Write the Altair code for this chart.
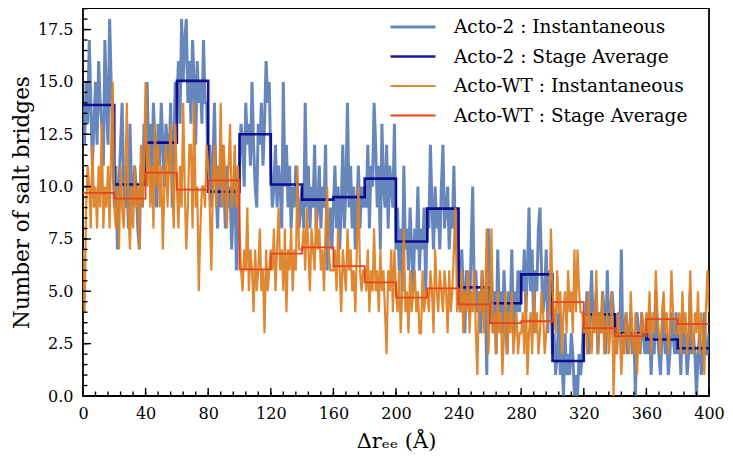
import altair as alt
import pandas as pd

# ---------------- data ----------------
x_inst = list(range(0, 401))

acto2_inst = [
    14, 12, 15, 13, 17, 14, 11, 13, 15, 12, 16, 14, 13, 11, 17, 14, 12, 18, 15, 12,
    9, 11, 7, 10, 12, 14, 10, 9, 11, 8, 13, 10, 9, 11, 10, 8, 7, 11, 9, 13,
    12, 15, 11, 13, 10, 14, 12, 9, 13, 11, 14, 12, 10, 13, 12, 11, 14, 9, 12, 15,
    14, 16, 13, 18, 15, 17, 18, 14, 16, 13, 17, 15, 12, 16, 14, 15, 13, 17, 14, 14,
    10, 12, 9, 11, 14, 10, 8, 11, 9, 12, 10, 8, 11, 9, 10, 7, 9, 11, 6, 8,
    11, 13, 12, 10, 14, 12, 13, 11, 15, 12, 10, 9, 13, 12, 14, 11, 13, 16, 14, 15,
    11, 9, 10, 12, 9, 11, 10, 8, 15, 10, 12, 9, 11, 8, 10, 9, 11, 10, 8, 9,
    10, 8, 14, 9, 11, 8, 10, 9, 12, 8, 9, 11, 8, 10, 9, 12, 6, 8, 9, 7,
    9, 11, 8, 10, 7, 9, 12, 8, 10, 14, 9, 11, 8, 10, 7, 9, 11, 8, 10, 9,
    10, 9, 12, 8, 11, 10, 14, 12, 9, 11, 7, 13, 10, 9, 12, 8, 11, 10, 9, 13,
    7, 9, 6, 8, 5, 11, 7, 8, 6, 9, 7, 5, 8, 7, 10, 6, 8, 7, 9, 5,
    9, 8, 12, 9, 7, 10, 8, 9, 7, 10, 12, 8, 9, 10, 7, 9, 8, 11, 7, 9,
    6, 4, 7, 5, 3, 6, 5, 4, 7, 10, 5, 6, 4, 5, 3, 6, 4, 5, 1, 8,
    4, 6, 3, 5, 2, 7, 4, 5, 3, 6, 4, 2, 5, 4, 7, 3, 5, 4, 6, 4,
    6, 5, 7, 4, 6, 9, 5, 7, 3, 6, 5, 8, 9, 6, 4, 5, 7, 3, 6, 5,
    2, 3, 1, 2, 4, 1, 2, 0, 3, 1, 2, 1, 3, 2, 0, 1, 0, 2, 1, 2,
    4, 3, 5, 2, 4, 6, 3, 4, 5, 2, 4, 3, 5, 4, 2, 6, 3, 4, 5, 4,
    3, 2, 4, 3, 7, 2, 3, 4, 2, 3, 4, 2, 3, 0, 4, 3, 2, 4, 3, 2,
    3, 2, 4, 1, 3, 2, 5, 3, 2, 1, 3, 4, 2, 3, 1, 2, 4, 3, 2, 4,
    2, 3, 1, 4, 2, 3, 1, 2, 5, 2, 3, 2, 0, 2, 3, 1, 2, 4, 2, 2,
    3,
]

actowt_inst = [
    7, 4, 9, 11, 10, 8, 12, 9, 10, 8, 11, 9, 13, 8, 10, 9, 11, 8, 12, 15,
    9, 8, 10, 7, 11, 9, 8, 10, 14, 9, 7, 10, 8, 11, 9, 10, 7, 12, 9, 11,
    15, 10, 12, 9, 11, 8, 13, 10, 12, 9, 11, 7, 10, 12, 9, 11, 13, 10, 8, 13,
    10, 8, 11, 9, 14, 10, 7, 9, 12, 12, 8, 14, 9, 10, 5, 8, 10, 10, 9, 12,
    11, 9, 6, 10, 12, 9, 11, 10, 14, 9, 12, 10, 8, 11, 13, 9, 10, 12, 9, 11,
    8, 6, 5, 7, 6, 9, 5, 7, 6, 4, 7, 5, 6, 8, 5, 6, 3, 7, 5, 6,
    7, 6, 8, 5, 7, 9, 6, 7, 5, 8, 4, 7, 6, 8, 5, 7, 6, 11, 7, 7,
    7, 8, 6, 9, 7, 5, 8, 7, 6, 9, 7, 8, 6, 7, 5, 8, 10, 7, 6, 6,
    6, 7, 5, 8, 6, 4, 7, 6, 5, 8, 6, 7, 5, 6, 4, 7, 10, 6, 5, 6,
    6, 5, 7, 4, 6, 5, 8, 5, 6, 4, 7, 5, 6, 4, 2, 6, 5, 7, 4, 7,
    5, 4, 6, 3, 5, 8, 4, 5, 3, 6, 4, 5, 6, 4, 5, 3, 3, 6, 4, 5,
    5, 4, 6, 5, 3, 7, 5, 4, 6, 5, 4, 6, 5, 3, 6, 4, 5, 7, 9, 4,
    5, 4, 6, 3, 5, 4, 6, 3, 5, 4, 6, 3, 1, 5, 4, 6, 3, 5, 8, 2,
    4, 8, 3, 4, 2, 5, 3, 4, 1, 3, 5, 2, 4, 3, 5, 2, 3, 4, 2, 3,
    3, 4, 2, 5, 1, 3, 4, 2, 5, 3, 4, 2, 3, 5, 4, 2, 3, 4, 4, 8,
    5, 4, 3, 6, 4, 5, 2, 4, 5, 3, 6, 4, 5, 3, 7, 4, 7, 5, 4, 4,
    3, 4, 2, 5, 3, 2, 4, 3, 6, 2, 4, 3, 5, 2, 3, 4, 2, 3, 5, 0,
    3, 2, 4, 3, 1, 3, 2, 4, 3, 2, 5, 3, 2, 4, 1, 3, 2, 4, 3, 3,
    4, 3, 5, 2, 4, 3, 6, 4, 3, 2, 4, 5, 3, 4, 2, 3, 6, 4, 3, 3,
    3, 4, 2, 5, 3, 4, 2, 3, 6, 3, 2, 4, 3, 5, 2, 4, 3, 1, 4, 6,
    4,
]

stage_edges = list(range(0, 401, 20))
acto2_stage = [13.9, 10.1, 12.1, 15.05, 9.76, 12.5, 10.1, 9.38, 9.5, 10.38,
               7.38, 8.95, 5.19, 4.43, 5.81, 1.67, 3.9, 3.0, 2.7, 2.28]
actowt_stage = [9.7, 9.43, 10.67, 9.86, 10.3, 6.05, 6.8, 7.1, 6.2, 5.43,
                4.7, 5.14, 4.38, 3.48, 3.57, 4.48, 3.24, 2.86, 3.67, 3.43]

names = ["Acto-2 : Instantaneous", "Acto-2 : Stage Average",
         "Acto-WT : Instantaneous", "Acto-WT : Stage Average"]
colors = ["#4C72B0", "#00008B", "#DD8126", "#E8431A"]
widths = [3.0, 1.8, 3.0, 1.8]
opacities = [0.85, 1.0, 0.85, 1.0]

x_major = list(range(0, 401, 40))
x_minor = list(range(0, 401, 8))
y_major = [i * 2.5 for i in range(8)]
y_minor = [i * 0.5 for i in range(38)]

XDOM = [0, 400]
YDOM = [0, 18.53]
W, H = 626, 388
FONT = "DejaVu Serif"

df_a2 = pd.DataFrame({"x": x_inst, "y": acto2_inst, "series": names[0]})
df_a2s = pd.DataFrame({"x": stage_edges, "y": acto2_stage + [acto2_stage[-1]], "series": names[1]})
df_wt = pd.DataFrame({"x": x_inst, "y": actowt_inst, "series": names[2]})
df_wts = pd.DataFrame({"x": stage_edges, "y": actowt_stage + [actowt_stage[-1]], "series": names[3]})

xs = alt.Scale(domain=XDOM, nice=False, zero=False)
ys = alt.Scale(domain=YDOM, nice=False, zero=False)

legend = alt.Legend(
    title=None, orient="none", legendX=306, legendY=7,
    symbolType="stroke", symbolSize=2025, clipHeight=24,
    labelFont=FONT, labelFontSize=18.5, labelColor="black", labelLimit=600,
    labelOffset=17, rowPadding=5.5, padding=0,
)

x_axis = alt.Axis(
    values=x_major, ticks=False, grid=False, domain=False,
    labelFont=FONT, labelFontSize=16, labelColor="black", labelFlush=False,
    labelOverlap=False, labelPadding=9, format="d", title="Δrₑₑ (Å)", titleFont=FONT,
    titleFontSize=21, titleFontWeight="normal", titleColor="black", titlePadding=9,
)
y_axis = alt.Axis(
    values=y_major, ticks=False, grid=False, domain=False,
    labelFont=FONT, labelFontSize=16, labelColor="black", labelFlush=False,
    labelOverlap=False, labelPadding=10, format=".1f", title="Number of salt bridges",
    titleFont=FONT, titleFontSize=21.5, titleFontWeight="normal", titleColor="black",
    titlePadding=4,
)


def build(df, step=False):
    mark = alt.Chart(df).mark_line(interpolate="step-after" if step else "linear",
                                   clip=True)
    return mark.encode(
        x=alt.X("x:Q", scale=xs, axis=x_axis),
        y=alt.Y("y:Q", scale=ys, axis=y_axis),
        color=alt.Color("series:N", scale=alt.Scale(domain=names, range=colors), legend=legend),
        strokeWidth=alt.StrokeWidth("series:N", scale=alt.Scale(domain=names, range=widths), legend=legend),
        opacity=alt.Opacity("series:N", scale=alt.Scale(domain=names, range=opacities), legend=legend),
    )


layer1 = build(df_a2)
layer2 = build(df_a2s, step=True)
layer3 = build(df_wt)
layer4 = build(df_wts, step=True)

# inward ticks, positioned by the shared scales
df_xmaj = pd.DataFrame({"x": x_major})
df_xmin = pd.DataFrame({"x": x_minor})
df_ymaj = pd.DataFrame({"y": y_major})
df_ymin = pd.DataFrame({"y": y_minor})


def xticks(df, size):
    return alt.Chart(df).mark_rule(color="black", strokeWidth=1.4).encode(
        x=alt.X("x:Q", scale=xs, axis=x_axis),
        y=alt.value(H), y2=alt.value(H - size),
    )


def yticks(df, size):
    return alt.Chart(df).mark_rule(color="black", strokeWidth=1.4).encode(
        y=alt.Y("y:Q", scale=ys, axis=y_axis),
        x=alt.value(0), x2=alt.value(size),
    )


chart = (
    alt.layer(layer1, layer2, layer3, layer4,
              xticks(df_xmaj, 8), xticks(df_xmin, 4.5),
              yticks(df_ymaj, 8), yticks(df_ymin, 4.5))
    .properties(
        width=W, height=H,
        padding={"left": 75, "top": 0, "right": 16, "bottom": 61},
        autosize=alt.AutoSizeParams(type="none"),
        background="white",
    )
    .configure_view(stroke="black", strokeWidth=1.8)
)

chart.save("out.html", embed_options={"renderer": "svg", "actions": False})
